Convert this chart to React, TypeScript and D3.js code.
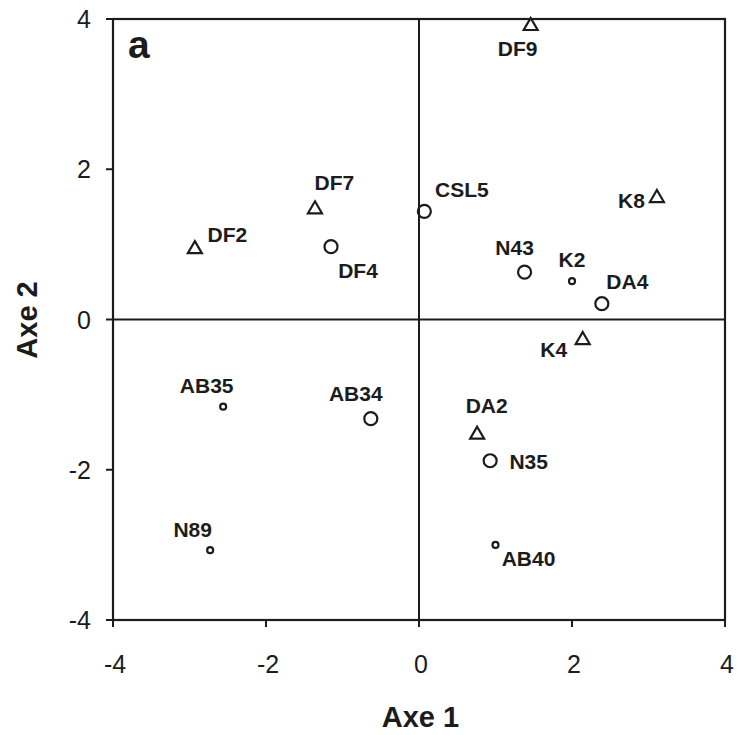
import React from "react";
import * as d3 from "d3";

const names = ["DF9", "DF7", "DF2", "DF4", "CSL5", "K8", "N43", "K2", "DA4", "K4", "AB35", "AB34", "DA2", "N35", "N89", "AB40"];
const axe1 = [1.46, -1.36, -2.93, -1.15, 0.07, 3.11, 1.38, 2.0, 2.39, 2.14, -2.56, -0.63, 0.76, 0.93, -2.73, 1.0];
const axe2 = [3.92, 1.48, 0.95, 0.97, 1.44, 1.63, 0.63, 0.51, 0.21, -0.26, -1.16, -1.32, -1.52, -1.88, -3.07, -3.0];
const groups = ["tri", "tri", "tri", "big", "big", "tri", "big", "small", "big", "tri", "small", "big", "tri", "big", "small", "small"];
const ticks = [-4, -2, 0, 2, 4];

// label placement relative to marker (text center x, baseline y)
const labelOffsets: Record<string, [number, number]> = {
  DF9: [-13, 31], DF7: [19.5, -18], DF2: [32.5, -6], DF4: [27, 31.5],
  CSL5: [37.5, -14.5], K8: [-25.5, 11], N43: [-10, -17.5], K2: [0, -14],
  DA4: [25.5, -15], K4: [-29, 18], AB35: [-16.5, -14], AB34: [-15, -17.5],
  DA2: [9.5, -21], N35: [38.5, 8.5], N89: [-17.5, -13], AB40: [33, 21],
};

const W = 738, H = 735;
const L = 113, R = 725, T = 19, B = 620;
const INK = "#1c1c1c";
const FONT = "'Liberation Sans', Arial, Helvetica, sans-serif";

export default function App() {
  const x = d3.scaleLinear().domain([-4, 4]).range([L, R]);
  const y = d3.scaleLinear().domain([-4, 4]).range([B, T]);
  const tri = (cx: number, cy: number) => {
    const p = d3.path();
    p.moveTo(cx, cy - 7);
    p.lineTo(cx + 7, cy + 5);
    p.lineTo(cx - 7, cy + 5);
    p.closePath();
    return p.toString();
  };
  return (
    <div style={{ position: "fixed", left: 0, top: 0 }}>
      <svg width={W} height={H} style={{ display: "block", background: "#fff" }}>
        <line x1={x(0)} x2={x(0)} y1={T} y2={B} stroke={INK} strokeWidth={2} />
        <line x1={L} x2={R} y1={y(0)} y2={y(0)} stroke={INK} strokeWidth={2} />
        <rect x={L} y={T} width={R - L} height={B - T} fill="none" stroke={INK} strokeWidth={2.2} />
        {ticks.map((t) => (
          <g key={"x" + t}>
            <line x1={x(t)} x2={x(t)} y1={B} y2={B + 7} stroke={INK} strokeWidth={2} />
            <text x={x(t) + 2} y={673} textAnchor="middle" fontFamily={FONT} fontSize={25} fill={INK}>
              {String(t)}
            </text>
          </g>
        ))}
        {ticks.map((t) => (
          <g key={"y" + t}>
            <line x1={L - 7} x2={L} y1={y(t)} y2={y(t)} stroke={INK} strokeWidth={2} />
            <text x={91} y={y(t) + 9} textAnchor="end" fontFamily={FONT} fontSize={25} fill={INK}>
              {String(t)}
            </text>
          </g>
        ))}
        {names.map((n, i) => {
          const cx = x(axe1[i]), cy = y(axe2[i]);
          const g = groups[i];
          return g === "tri" ? (
            <path key={n} d={tri(cx, cy)} fill="none" stroke={INK} strokeWidth={2.2} strokeLinejoin="miter" />
          ) : (
            <circle key={n} cx={cx} cy={cy} r={g === "big" ? 6.5 : 3} fill="none" stroke={INK} strokeWidth={2.2} />
          );
        })}
        {names.map((n, i) => {
          const [dx, dy] = labelOffsets[n];
          return (
            <text key={"l" + n} x={x(axe1[i]) + dx} y={y(axe2[i]) + dy} textAnchor="middle" fontFamily={FONT} fontWeight="bold" fontSize={21} fill={INK}>
              {n}
            </text>
          );
        })}
        <text x={128} y={58} fontFamily={FONT} fontWeight="bold" fontSize={39} fill={INK}>a</text>
        <text x={420.5} y={727} textAnchor="middle" fontFamily={FONT} fontWeight="bold" fontSize={29} fill={INK}>Axe 1</text>
        <text transform="translate(37,320) rotate(-90)" textAnchor="middle" fontFamily={FONT} fontWeight="bold" fontSize={29} fill={INK}>Axe 2</text>
      </svg>
    </div>
  );
}
